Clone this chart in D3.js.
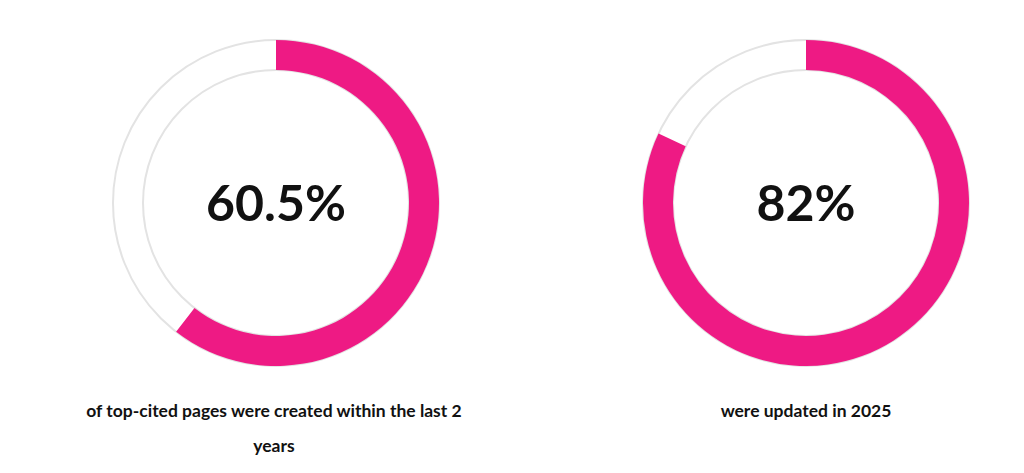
<!DOCTYPE html><html><head><meta charset="utf-8"><script src="https://cdn.jsdelivr.net/npm/d3@7"></script>
<style>body{margin:0;background:#fff}</style></head><body><svg id="c" width="1024" height="473"></svg>
<script>
const values=[60.5,82];
const valueLabels=["60.5%","82%"];
const captions=[["of top-cited pages were created within the last 2","years"],["were updated in 2025"]];
const svg=d3.select("#c");
const cx=d3.scaleOrdinal().domain([0,1]).range([276,806]);
const ang=d3.scaleLinear().domain([0,100]).range([0,2*Math.PI]);
const R=163,r=133;
values.forEach((v,i)=>{
 const g=svg.append("g").attr("transform",`translate(${cx(i)},203)`);
 g.append("path").attr("d",d3.arc()({innerRadius:r,outerRadius:R,startAngle:0,endAngle:2*Math.PI})).attr("fill","#fff").attr("stroke","#e3e3e3").attr("stroke-width",2);
 g.append("path").attr("d",d3.arc()({innerRadius:r,outerRadius:R,startAngle:0,endAngle:ang(v)})).attr("fill","#ee1a84");
 g.append("text").attr("text-anchor","middle").attr("y",18).attr("font-family","Lato").attr("font-weight",700).attr("font-size",50).attr("fill","#111").text(valueLabels[i]);
 captions[i].forEach((t,j)=>svg.append("text").attr("x",cx(i)-(i==0?2:0)).attr("y",417+j*35).attr("text-anchor","middle").attr("font-family","Lato").attr("font-weight",700).attr("font-size",17.5).attr("fill","#111").text(t));
});
</script></body></html>
